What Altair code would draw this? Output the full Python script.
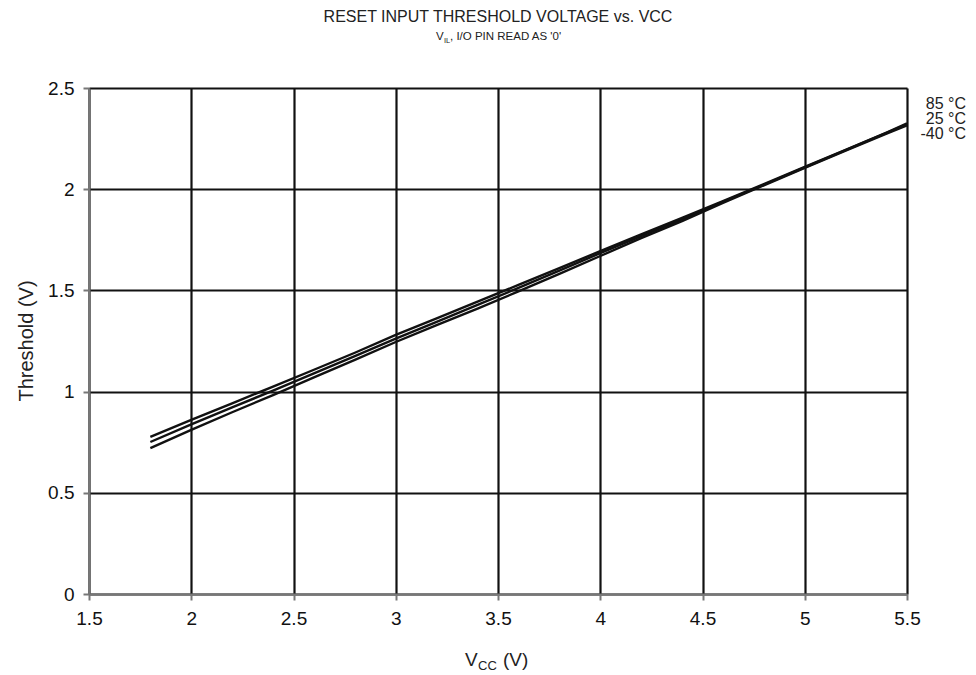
import altair as alt
import pandas as pd

vcc = [1.8, 2.0, 2.2, 2.4, 2.6, 2.8, 3.0, 3.2, 3.4, 3.6, 3.8, 4.0, 4.2, 4.4, 4.6, 4.8, 5.0, 5.2, 5.4, 5.5]
t85 = [0.776, 0.860, 0.942, 1.025, 1.108, 1.192, 1.280, 1.362, 1.445, 1.527, 1.610, 1.694, 1.777, 1.858, 1.941, 2.025, 2.110, 2.195, 2.280, 2.325]
t25 = [0.751, 0.838, 0.922, 1.005, 1.090, 1.175, 1.262, 1.345, 1.428, 1.512, 1.598, 1.684, 1.768, 1.851, 1.937, 2.022, 2.108, 2.193, 2.278, 2.320]
tm40 = [0.721, 0.811, 0.898, 0.983, 1.070, 1.157, 1.245, 1.328, 1.410, 1.495, 1.582, 1.670, 1.758, 1.842, 1.932, 2.019, 2.105, 2.190, 2.275, 2.315]
series = ["85 °C", "25 °C", "-40 °C"]

rows = []
for name, vals in zip(series, [t85, t25, tm40]):
    for x, y in zip(vcc, vals):
        rows.append({"vcc": x, "thr": y, "temp": name})
df = pd.DataFrame(rows)

FONT = "Liberation Sans"
W, H = 818, 506

x_scale = alt.Scale(domain=[1.5, 5.5], nice=False, zero=False)
y_scale = alt.Scale(domain=[0, 2.5], nice=False)

common = dict(title=None, format="~g", labelFont=FONT, labelFontSize=19, labelColor="#111",
              tickSize=6, tickColor="#777", domainColor="#777", domainWidth=2, tickWidth=2,
              gridColor="#111", gridWidth=2.2, gridOpacity=1, labelFlush=False,
              labelOverlap=False)

lines = alt.Chart(df).mark_line(color="#111111", strokeWidth=2.4).encode(
    x=alt.X("vcc:Q", scale=x_scale,
            axis=alt.Axis(values=[1.5, 2, 2.5, 3, 3.5, 4, 4.5, 5, 5.5], labelPadding=9, **common)),
    y=alt.Y("thr:Q", scale=y_scale,
            axis=alt.Axis(values=[0, 0.5, 1, 1.5, 2, 2.5], labelPadding=9, **common)),
    detail="temp:N",
)

def txt(s, x, y, size, align="center", angle=0, baseline="alphabetic"):
    return alt.Chart(pd.DataFrame({"t": [s]})).mark_text(
        font=FONT, fontSize=size, color="#222", align=align, angle=angle, baseline=baseline
    ).encode(text="t:N", x=alt.value(x), y=alt.value(y))

X0, Y0 = 89, 88  # page coords of plot origin
def P(px, py):
    return px - X0, py - Y0

texts = []
texts.append(txt("RESET INPUT THRESHOLD VOLTAGE vs. VCC", *P(498, 22), 16))
texts.append(txt("V", *P(436, 40), 11.5, align="left"))
texts.append(txt("IL", *P(444, 43), 7.5, align="left"))
texts.append(txt(", I/O PIN READ AS '0'", *P(450, 40), 11.5, align="left"))
texts.append(txt("V", *P(465, 666), 19, align="left"))
texts.append(txt("CC", *P(478, 670), 13, align="left"))
texts.append(txt("(V)", *P(503, 666), 19, align="left"))
texts.append(txt("Threshold (V)", *P(33, 341), 20, angle=270))
for name, py in zip(series, [109, 124, 139]):
    texts.append(txt(name, *P(966, py), 16, align="right"))

chart = alt.layer(lines, *texts).properties(
    width=W, height=H,
    autosize=alt.AutoSizeParams(type="none"),
    padding={"left": X0 - 8, "top": Y0 - 8, "right": 60, "bottom": 80},
).configure_view(stroke="#888", strokeWidth=2).configure(background="white")

chart.save("out.html", embed_options={"renderer": "svg", "actions": False})
